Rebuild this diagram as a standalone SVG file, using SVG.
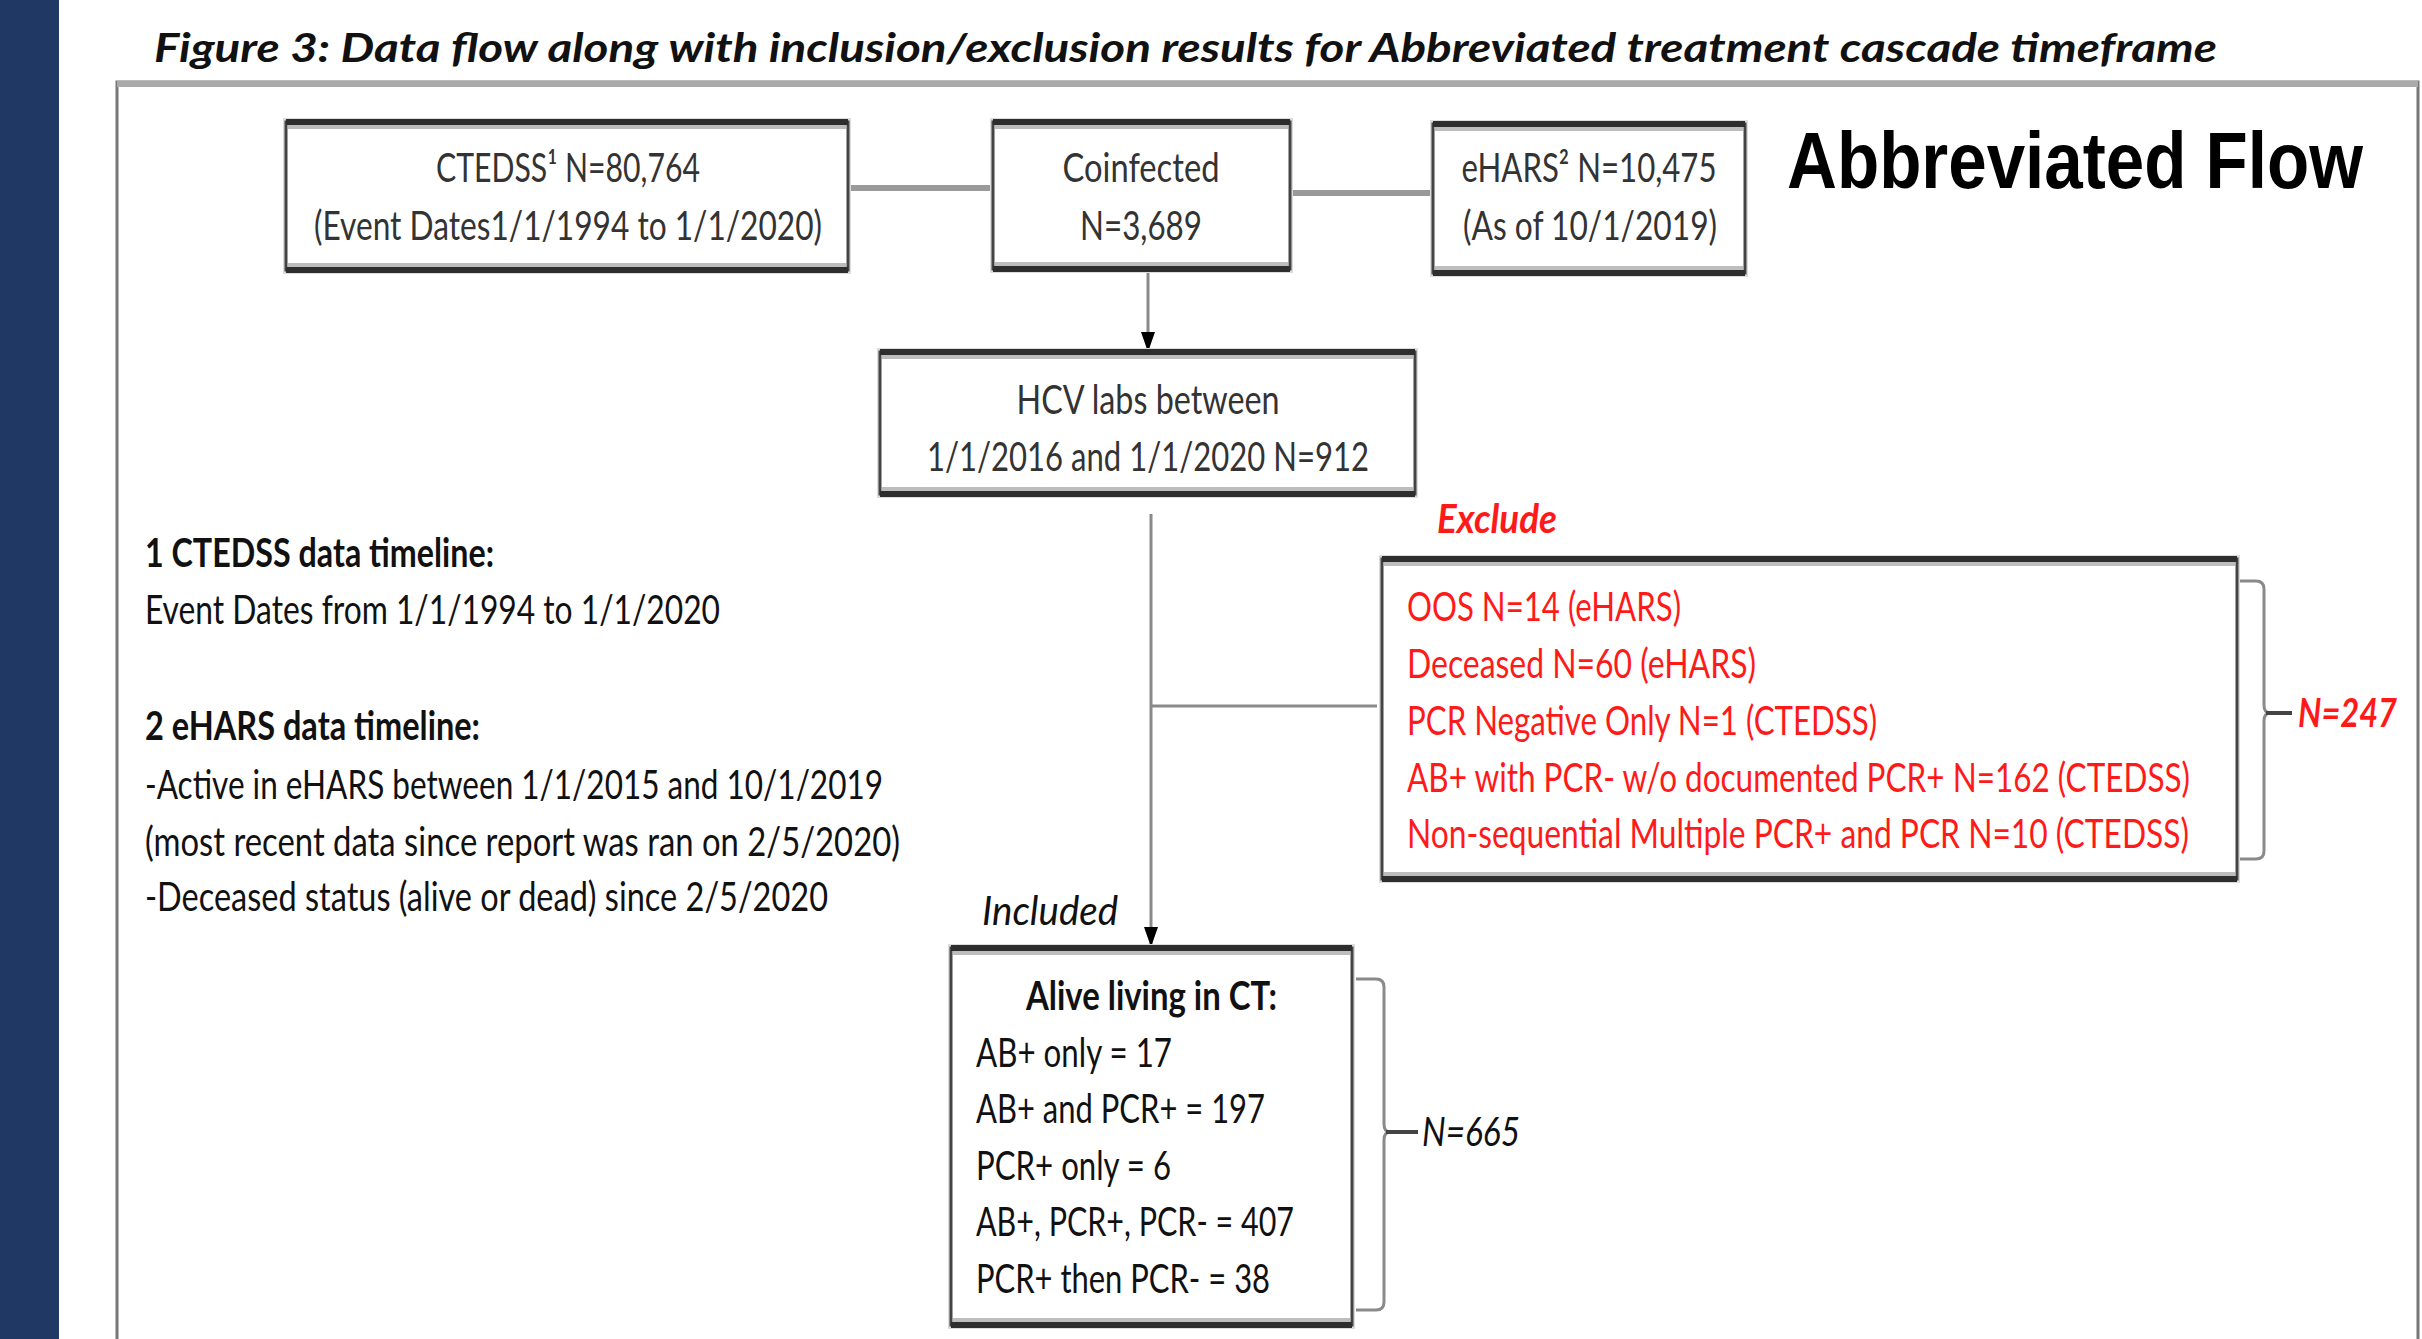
<svg xmlns="http://www.w3.org/2000/svg" width="2422" height="1339" viewBox="0 0 2422 1339">
<defs>
<style>
.t{font-family:Lato,"Liberation Sans",Arial,sans-serif;font-size:40px;fill:#333;}
.c{text-anchor:middle;}
.b{font-weight:bold;}
.i{font-style:italic;}
.red{fill:#ff1a1a;}
.blk{fill:#111;}
.sh{fill:#dcdcdc;}
.bx{fill:#fff;stroke:#444;stroke-width:3;}
.band{stroke:#bdbdbd;stroke-width:4;fill:none;}
.edge{stroke:#2e2e2e;stroke-width:6;fill:none;}
.hl{stroke:#9a9a9a;stroke-width:6;fill:none;}
.vl{stroke:#8a8a8a;stroke-width:3;fill:none;}
.brace{stroke:#8a8a8a;stroke-width:3;fill:none;}
.tick{stroke:#444;stroke-width:4;fill:none;}
</style>
<marker id="ah" markerUnits="userSpaceOnUse" markerWidth="22" markerHeight="16" refX="20" refY="8" orient="auto">
<path d="M0,1 L20,8 L0,15 z" fill="#000"/>
</marker>
</defs>
<rect width="2422" height="1339" fill="#fff"/>
<rect x="0" y="0" width="59" height="1339" fill="#1f3864"/>
<text class="t b i blk" x="154" y="62" font-size="42" textLength="2063" lengthAdjust="spacingAndGlyphs">Figure 3: Data flow along with inclusion/exclusion results for Abbreviated treatment cascade timeframe</text>
<g id="frame">
<path d="M117,1339 V82 H2418 V1339" fill="none" stroke="#777" stroke-width="3"/>
<path d="M117,84 H2418" stroke="#aaa" stroke-width="6"/>
</g>
<g id="connectors">
<path class="hl" d="M848,188 H993"/>
<path class="hl" d="M1290,193 H1433"/>
<path class="vl" d="M1148,271 V352" marker-end="url(#ah)"/>
<path class="vl" d="M1151,514 V947" marker-end="url(#ah)"/>
<path class="vl" d="M1151,706 H1377"/>
</g>
<g id="ctedss">
<rect class="sh" x="283" y="118" width="568" height="156"/>
<rect class="bx" x="286" y="122" width="562" height="148"/>
<path class="band" d="M288,127 H846 M288,265 H846"/>
<path class="edge" d="M286,122 H848 M286,270 H848"/>
<text class="t c" x="568" y="182" textLength="264" lengthAdjust="spacingAndGlyphs">CTEDSS¹ N=80,764</text>
<text class="t c" x="568" y="240" textLength="508" lengthAdjust="spacingAndGlyphs">(Event Dates1/1/1994 to 1/1/2020)</text>
</g>
<g id="coinfected">
<rect class="sh" x="990" y="118" width="303" height="155"/>
<rect class="bx" x="993" y="122" width="297" height="147"/>
<path class="band" d="M995,127 H1288 M995,264 H1288"/>
<path class="edge" d="M993,122 H1290 M993,269 H1290"/>
<text class="t c" x="1141" y="182" textLength="157" lengthAdjust="spacingAndGlyphs">Coinfected</text>
<text class="t c" x="1141" y="240" textLength="122" lengthAdjust="spacingAndGlyphs">N=3,689</text>
</g>
<g id="ehars">
<rect class="sh" x="1430" y="120" width="318" height="157"/>
<rect class="bx" x="1433" y="124" width="312" height="149"/>
<path class="band" d="M1435,129 H1743 M1435,268 H1743"/>
<path class="edge" d="M1433,124 H1745 M1433,273 H1745"/>
<text class="t c" x="1589" y="182" textLength="255" lengthAdjust="spacingAndGlyphs">eHARS² N=10,475</text>
<text class="t c" x="1590" y="240" textLength="254" lengthAdjust="spacingAndGlyphs">(As of 10/1/2019)</text>
</g>
<g id="title-flow">
<text class="b" transform="translate(1787,188) scale(0.864,1)" x="0" y="0" font-family="'Liberation Sans',Arial,sans-serif" font-size="80" fill="#000">Abbreviated Flow</text>
</g>
<g id="hcv">
<rect class="sh" x="877" y="348" width="541" height="150"/>
<rect class="bx" x="880" y="352" width="535" height="142"/>
<path class="band" d="M882,357 H1413 M882,489 H1413"/>
<path class="edge" d="M880,352 H1415 M880,494 H1415"/>
<text class="t c" x="1148" y="414" textLength="263" lengthAdjust="spacingAndGlyphs">HCV labs between</text>
<text class="t c" x="1148" y="471" textLength="442" lengthAdjust="spacingAndGlyphs">1/1/2016 and 1/1/2020 N=912</text>
</g>
<g id="notes">
<text class="t b blk" x="145" y="567" textLength="349" lengthAdjust="spacingAndGlyphs">1 CTEDSS data timeline:</text>
<text class="t blk" x="145" y="624" textLength="575" lengthAdjust="spacingAndGlyphs">Event Dates from 1/1/1994 to 1/1/2020</text>
<text class="t b blk" x="145" y="740" textLength="335" lengthAdjust="spacingAndGlyphs">2 eHARS data timeline:</text>
<text class="t blk" x="145" y="799" textLength="738" lengthAdjust="spacingAndGlyphs">-Active in eHARS between 1/1/2015 and 10/1/2019</text>
<text class="t blk" x="145" y="856" textLength="755" lengthAdjust="spacingAndGlyphs">(most recent data since report was ran on 2/5/2020)</text>
<text class="t blk" x="145" y="911" textLength="683" lengthAdjust="spacingAndGlyphs">-Deceased status (alive or dead) since 2/5/2020</text>
</g>
<g id="exclude-label">
<text class="t b i red" x="1437" y="533" textLength="120" lengthAdjust="spacingAndGlyphs">Exclude</text>
</g>
<g id="exclude">
<rect class="sh" x="1379" y="555" width="861" height="328"/>
<rect class="bx" x="1382" y="559" width="855" height="320"/>
<path class="band" d="M1384,564 H2235 M1384,874 H2235"/>
<path class="edge" d="M1382,559 H2237 M1382,879 H2237"/>
<text class="t red" x="1407" y="621" textLength="274" lengthAdjust="spacingAndGlyphs">OOS N=14 (eHARS)</text>
<text class="t red" x="1407" y="678" textLength="349" lengthAdjust="spacingAndGlyphs">Deceased N=60 (eHARS)</text>
<text class="t red" x="1407" y="735" textLength="470" lengthAdjust="spacingAndGlyphs">PCR Negative Only N=1 (CTEDSS)</text>
<text class="t red" x="1407" y="792" textLength="783" lengthAdjust="spacingAndGlyphs">AB+ with PCR- w/o documented PCR+ N=162 (CTEDSS)</text>
<text class="t red" x="1407" y="848" textLength="782" lengthAdjust="spacingAndGlyphs">Non-sequential Multiple PCR+ and PCR N=10 (CTEDSS)</text>
</g>
<g id="exclude-total">
<path class="brace" d="M2240,581 H2256 Q2264,581 2264,589 V705 Q2264,713 2270,713 Q2264,713 2264,721 V851 Q2264,859 2256,859 H2240"/>
<path class="tick" d="M2266,713 H2292"/>
<text class="t b i red" x="2298" y="727" textLength="99" lengthAdjust="spacingAndGlyphs">N=247</text>
</g>
<g id="included-label">
<text class="t i blk" x="982" y="925" textLength="136" lengthAdjust="spacingAndGlyphs">Included</text>
</g>
<g id="alive">
<rect class="sh" x="948" y="944" width="407" height="385"/>
<rect class="bx" x="951" y="948" width="401" height="377"/>
<path class="band" d="M953,953 H1350 M953,1320 H1350"/>
<path class="edge" d="M951,948 H1352 M951,1325 H1352"/>
<text class="t b blk" x="1026" y="1010" textLength="251" lengthAdjust="spacingAndGlyphs">Alive living in CT:</text>
<text class="t blk" x="976" y="1067" textLength="196" lengthAdjust="spacingAndGlyphs">AB+ only = 17</text>
<text class="t blk" x="976" y="1123" textLength="289" lengthAdjust="spacingAndGlyphs">AB+ and PCR+ = 197</text>
<text class="t blk" x="976" y="1180" textLength="195" lengthAdjust="spacingAndGlyphs">PCR+ only = 6</text>
<text class="t blk" x="976" y="1236" textLength="318" lengthAdjust="spacingAndGlyphs">AB+, PCR+, PCR- = 407</text>
<text class="t blk" x="976" y="1293" textLength="294" lengthAdjust="spacingAndGlyphs">PCR+ then PCR- = 38</text>
</g>
<g id="alive-total">
<path class="brace" d="M1356,979 H1376 Q1384,979 1384,987 V1124 Q1384,1132 1390,1132 Q1384,1132 1384,1140 V1302 Q1384,1310 1376,1310 H1356"/>
<path class="tick" d="M1386,1132 H1418"/>
<text class="t i blk" x="1422" y="1146" textLength="98" lengthAdjust="spacingAndGlyphs">N=665</text>
</g>
</svg>
